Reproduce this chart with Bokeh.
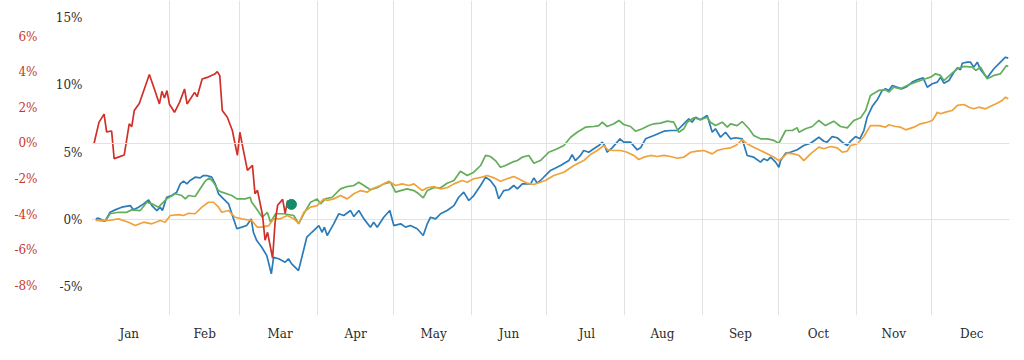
from bokeh.plotting import figure
from bokeh.models import Range1d, LinearAxis, FixedTicker, PrintfTickFormatter, Span
from bokeh.embed import file_html
from bokeh.resources import INLINE

# ---- data (day of year, percent) ----
months = ["Jan", "Feb", "Mar", "Apr", "May", "Jun", "Jul", "Aug", "Sep", "Oct", "Nov", "Dec"]
month_mid = [15, 45, 75, 105, 136, 166, 197, 227, 258, 289, 319, 350]
month_start = [31, 59, 90, 120, 151, 181, 212, 243, 273, 304, 334, 365]

blue_day = [1.7, 2.8, 5.4, 7.4, 9.4, 12.0, 15.4, 16.7, 18.7, 20.7, 22.7, 24.0, 26.0, 27.3, 28.2, 29.9, 31.9, 33.9, 35.3, 36.6,
            37.9, 39.2, 41.2, 43.2, 44.5, 45.8, 47.8, 49.2, 50.5, 52.5, 54.5, 55.8, 57.8, 59.8, 61.7, 63.5, 64.4, 65.7, 67.7, 69.7,
            71.5, 72.4, 74.4, 77.0, 78.3, 79.6, 82.3, 84.3, 85.6, 87.6, 90.4, 91.7, 92.6, 93.7, 96.3, 98.3, 100.3, 103.0, 104.3, 106.3,
            108.3, 110.9, 112.2, 113.6, 116.2, 118.6, 120.2, 122.9, 124.9, 126.8, 129.5, 131.9, 133.5, 134.8, 136.8, 138.8, 141.4, 144.1, 146.0, 148.0,
            150.0, 152.0, 154.7, 156.7, 158.6, 160.6, 161.9, 163.9, 165.9, 167.9, 169.3, 171.3, 174.6, 175.9, 177.2, 178.5, 182.5, 186.5, 189.8, 191.1,
            192.4, 194.4, 195.7, 197.7, 199.7, 201.7, 203.1, 204.0, 205.0, 207.0, 209.0, 210.1, 211.6, 214.3, 217.0, 218.3, 220.3, 223.6, 227.6, 230.2,
            232.9, 235.5, 237.5, 238.8, 240.2, 242.1, 244.8, 246.8, 248.1, 250.1, 252.1, 254.1, 256.1, 258.7, 260.7, 263.3, 266.0, 267.3, 268.7, 270.0,
            272.0, 273.3, 274.0, 276.0, 277.9, 280.6, 283.2, 285.9, 289.2, 291.2, 292.5, 294.5, 296.5, 298.5, 300.5, 301.8, 303.8, 305.5, 307.1, 308.4,
            310.4, 312.4, 314.4, 315.7, 317.0, 318.4, 320.4, 322.3, 324.3, 326.3, 328.3, 330.7, 332.3, 334.3, 336.3, 337.6, 338.9, 340.9, 342.9, 344.3,
            345.5, 346.2, 348.2, 349.5, 350.8, 352.2, 353.5, 356.1, 358.8, 361.4, 363.4, 364.5]
blue_val = [0.05, 0.10, -0.13, 0.54, 0.72, 0.92, 1.04, 0.72, 0.92, 1.17, 1.47, 1.04, 0.67, 0.92, 0.67, 1.66, 1.79, 2.04, 2.66, 2.86,
            2.66, 2.91, 3.16, 3.11, 3.28, 3.28, 3.16, 2.66, 1.92, 1.54, 1.17, 0.43, -0.69, -0.57, -0.45, 0.05, -0.97, -1.57, -2.07, -2.69,
            -4.05, -2.81, -2.93, -3.19, -2.93, -3.31, -3.81, -2.31, -1.32, -0.95, -0.45, -0.95, -0.57, -1.19, -0.32, 0.43, 0.30, 0.67, 0.22, 0.67,
            0.05, -0.57, -0.20, -0.57, 0.17, 0.67, -0.45, -0.32, -0.57, -0.45, -0.69, -1.19, -0.32, 0.17, 0.05, 0.43, 0.67, 1.04, 1.66, 2.04,
            1.42, 1.79, 2.54, 3.16, 2.91, 2.41, 1.54, 2.16, 2.22, 2.54, 2.29, 2.66, 2.66, 3.11, 2.71, 2.91, 3.66, 4.03, 4.40, 4.83,
            4.40, 4.78, 5.15, 5.02, 5.28, 5.52, 5.77, 5.52, 5.02, 5.35, 5.77, 6.02, 5.77, 5.77, 5.20, 5.35, 6.02, 6.27, 6.59, 6.64,
            6.64, 7.14, 7.51, 7.26, 7.63, 7.44, 7.76, 6.51, 6.77, 6.14, 6.51, 6.02, 6.10, 6.02, 4.78, 4.65, 4.28, 4.53, 4.40, 4.65,
            4.28, 3.90, 4.40, 4.95, 5.02, 5.20, 5.52, 5.69, 6.14, 5.84, 5.77, 6.19, 6.10, 5.77, 5.52, 5.84, 6.19, 6.02, 6.64, 7.63,
            8.43, 8.93, 9.63, 9.75, 9.63, 10.00, 9.87, 9.75, 9.93, 10.25, 10.43, 10.57, 9.87, 10.13, 10.25, 10.62, 10.17, 10.37, 10.99, 11.32,
            11.17, 11.66, 11.74, 11.74, 11.37, 11.74, 11.17, 10.57, 11.25, 11.74, 12.11, 12.04]

green_day = [1.7, 5.4, 7.4, 10.7, 14.0, 16.0, 19.4, 22.0, 24.0, 26.6, 29.9, 33.3, 35.9, 37.3, 38.6, 41.2, 43.2, 45.2, 46.8, 48.5,
             50.5, 51.8, 55.8, 57.8, 61.1, 63.1, 63.7, 65.2, 67.9, 69.9, 71.2, 73.2, 76.5, 80.4, 82.4, 84.4, 87.1, 89.7, 91.1, 93.0,
             95.7, 99.0, 101.7, 104.3, 106.3, 108.3, 110.9, 113.6, 116.2, 118.9, 120.9, 122.9, 125.5, 128.2, 130.1, 131.9, 133.5, 136.1, 138.8, 141.4,
             144.1, 146.7, 149.4, 152.0, 154.7, 156.7, 158.6, 160.6, 162.6, 164.6, 167.3, 169.3, 171.3, 173.9, 175.9, 178.5, 181.8, 185.2, 187.8, 190.5,
             193.1, 196.4, 199.7, 201.7, 203.1, 205.0, 207.7, 209.7, 211.6, 214.3, 216.3, 219.0, 221.6, 223.6, 226.2, 228.9, 231.5, 233.5, 235.5, 236.9,
             239.5, 242.1, 244.8, 246.1, 248.1, 250.8, 252.8, 254.1, 256.7, 258.7, 261.4, 263.3, 266.0, 268.7, 271.3, 273.3, 276.0, 278.6, 280.6, 281.3,
             283.9, 286.6, 289.2, 291.8, 295.1, 297.8, 300.5, 303.1, 305.8, 307.8, 309.7, 313.0, 315.7, 317.0, 319.0, 321.7, 324.3, 327.6, 331.6, 333.6,
             335.6, 337.6, 338.9, 342.2, 344.3, 346.9, 350.2, 351.6, 353.5, 356.1, 358.8, 361.4, 363.8, 364.5]
green_val = [-0.02, -0.13, 0.43, 0.54, 0.54, 0.72, 0.67, 1.29, 1.17, 0.92, 1.54, 1.92, 1.79, 1.54, 1.79, 1.72, 2.29, 2.86, 3.11, 2.78,
             2.16, 2.04, 1.79, 1.54, 1.54, 1.66, 1.29, 0.92, 0.17, 0.54, -0.20, 0.43, 0.43, 0.30, -0.32, 0.43, 1.29, 1.54, 1.17, 1.54,
             1.66, 2.29, 2.46, 2.54, 2.78, 2.54, 2.22, 2.37, 2.66, 2.78, 2.04, 2.16, 2.29, 2.16, 1.92, 1.62, 2.16, 2.37, 2.37, 2.71,
             2.91, 3.60, 3.28, 3.53, 4.03, 4.78, 4.70, 4.40, 3.90, 4.03, 4.28, 4.40, 4.65, 4.78, 4.20, 4.40, 5.02, 5.28, 5.52, 6.14,
             6.51, 6.89, 6.94, 7.01, 7.26, 6.94, 7.14, 7.39, 7.09, 6.94, 6.59, 6.77, 7.01, 7.14, 7.19, 7.34, 7.26, 6.51, 6.77, 7.26,
             7.59, 7.44, 7.63, 7.26, 7.01, 7.26, 6.89, 7.14, 7.01, 7.31, 6.77, 6.27, 6.02, 6.02, 5.90, 5.69, 6.64, 6.64, 6.84, 6.51,
             6.77, 6.94, 7.39, 7.01, 7.34, 6.94, 6.84, 7.39, 7.59, 8.13, 9.25, 9.63, 9.68, 9.50, 9.87, 9.75, 10.00, 10.25, 10.50, 10.62,
             10.87, 10.75, 10.37, 10.92, 11.25, 11.42, 11.37, 11.12, 11.37, 10.50, 10.75, 10.87, 11.49, 11.42]

orange_day = [1.7, 6.8, 10.7, 14.7, 17.4, 20.7, 24.0, 27.3, 29.3, 31.3, 34.6, 36.6, 38.6, 41.2, 43.9, 46.5, 48.5, 50.5, 51.8, 54.5,
              57.1, 59.8, 63.7, 65.9, 67.7, 70.5, 72.5, 75.1, 77.8, 80.4, 82.4, 84.4, 87.1, 89.7, 92.4, 93.7, 96.3, 99.0, 101.7, 104.3,
              107.0, 109.6, 111.6, 114.9, 118.2, 120.9, 123.5, 126.2, 128.2, 131.5, 133.5, 136.1, 138.8, 141.4, 144.1, 147.4, 149.4, 152.0, 155.3, 157.3,
              160.0, 162.6, 165.3, 167.9, 170.6, 173.2, 175.9, 178.5, 180.5, 183.8, 187.8, 191.8, 195.7, 198.4, 201.1, 203.7, 205.3, 207.7, 210.3, 213.0,
              215.6, 217.6, 219.6, 222.3, 224.9, 227.6, 230.2, 232.9, 235.5, 238.2, 240.8, 243.5, 246.8, 248.8, 251.4, 254.1, 256.1, 258.7, 260.7, 263.3,
              266.0, 268.7, 271.3, 273.3, 275.3, 276.6, 279.2, 281.3, 283.2, 285.9, 289.2, 291.2, 293.8, 296.5, 298.5, 300.5, 301.8, 304.5, 307.1, 309.7,
              313.0, 315.7, 317.0, 319.7, 321.7, 323.7, 327.0, 329.6, 332.3, 334.3, 335.6, 336.3, 337.6, 339.6, 342.2, 344.3, 346.9, 348.9, 350.8, 352.8,
              355.5, 358.1, 360.1, 362.1, 363.4, 364.5]
orange_val = [-0.07, -0.07, 0.05, -0.20, -0.45, -0.20, -0.32, -0.07, -0.20, 0.30, 0.37, 0.30, 0.47, 0.43, 0.92, 1.29, 1.29, 0.92, 0.54, 0.67,
              0.17, 0.05, -0.07, -0.57, -0.57, -0.45, 0.05, 0.05, 0.30, 0.05, -0.28, 0.54, 0.92, 1.04, 1.54, 1.42, 1.54, 1.79, 1.54, 1.92,
              2.16, 2.04, 2.29, 2.54, 2.86, 2.54, 2.66, 2.54, 2.66, 2.16, 2.37, 2.46, 2.29, 2.37, 2.66, 2.91, 2.78, 3.04, 3.16, 3.28,
              3.11, 2.86, 3.04, 3.21, 2.96, 2.71, 2.61, 2.78, 2.91, 3.28, 3.53, 4.03, 4.40, 4.85, 5.15, 5.52, 5.20, 5.15, 5.15, 5.02,
              4.78, 4.48, 4.65, 4.78, 4.70, 4.78, 4.70, 4.57, 4.65, 5.02, 5.10, 5.15, 4.90, 5.15, 5.28, 5.35, 5.52, 5.95, 5.65, 5.40,
              5.15, 4.90, 4.65, 4.40, 4.70, 4.95, 4.90, 4.78, 4.40, 4.90, 5.40, 5.28, 5.45, 5.35, 5.02, 5.10, 5.52, 5.65, 6.19, 7.01,
              7.01, 6.89, 7.07, 6.94, 6.89, 6.69, 6.89, 7.14, 7.26, 7.39, 7.76, 8.01, 7.89, 8.01, 8.13, 8.51, 8.58, 8.38, 8.26, 8.38,
              8.26, 8.51, 8.68, 8.88, 9.13, 9.01]

red_day = [1, 3, 5, 6, 8, 9, 11, 13, 15, 16, 17, 19, 23, 25, 27, 28, 29, 30, 31, 33,
           35, 37, 38, 41, 42, 44, 46, 49, 50, 51, 52, 54, 56, 58, 59, 60, 62, 64, 65, 66,
           68, 69, 70, 72, 73, 74, 76, 77, 78]
red_val = [0.0, 1.2, 1.65, 0.65, 0.7, -0.85, -0.75, -0.65, 1.1, 0.95, 1.85, 2.25, 3.87, 3.06, 2.22, 2.93, 2.56, 2.97, 2.2, 1.75,
           2.31, 3.06, 2.22, 2.87, 2.63, 3.62, 3.71, 3.9, 4.03, 3.81, 1.85, 1.47, 0.73, -0.67, 0.63, -0.11, -1.51, -1.23, -2.82, -2.63,
           -4.03, -5.43, -4.99, -6.44, -4.43, -3.47, -3.14, -3.92, -3.19]

marker_day = [79.5]
marker_val = [-3.42]

FONT = "DejaVu Serif"
FS = "12px"
TXT = "#2a2a2a"

p = figure(width=1024, height=360, output_backend="svg", toolbar_location=None,
           x_range=Range1d(0, 365), y_range=Range1d(-7.16, 16.34),
           min_border_left=91, min_border_right=15, min_border_top=0, min_border_bottom=45,
           outline_line_color=None, background_fill_color="white", border_fill_color="white")
p.extra_y_ranges = {"red": Range1d(-9.66, 8.03)}

# grids
p.xgrid.ticker = FixedTicker(ticks=month_start)
p.xgrid.grid_line_color = "#e2e2e2"
p.ygrid.ticker = FixedTicker(ticks=[0])
p.ygrid.grid_line_color = "#e2e2e2"
p.add_layout(Span(location=0, dimension="width", y_range_name="red", line_color="#e2e2e2", line_width=1))

# x axis
xa = p.xaxis[0]
xa.ticker = FixedTicker(ticks=month_mid)
xa.major_label_overrides = {m: lab for m, lab in zip(month_mid, months)}
xa.axis_line_color = None
xa.major_tick_line_color = None
xa.minor_tick_line_color = None
xa.major_label_standoff = 5
xa.major_label_text_font = FONT
xa.major_label_text_font_size = FS
xa.major_label_text_color = TXT

# black y axis (inner)
ya = p.yaxis[0]
ya.ticker = FixedTicker(ticks=[-5, 0, 5, 10, 15])
ya.formatter = PrintfTickFormatter(format="%d%%")
ya.axis_line_color = None
ya.major_tick_line_color = None
ya.minor_tick_line_color = None
ya.major_label_standoff = 3
ya.major_label_text_font = FONT
ya.major_label_text_font_size = FS
ya.major_label_text_color = TXT

# red y axis (outer)
ra = LinearAxis(y_range_name="red", ticker=FixedTicker(ticks=[-8, -6, -4, -2, 0, 2, 4, 6]),
                formatter=PrintfTickFormatter(format="%d%%"))
ra.axis_line_color = None
ra.major_tick_line_color = None
ra.minor_tick_line_color = None
ra.major_label_standoff = 9
ra.major_label_text_font = FONT
ra.major_label_text_font_size = FS
ra.major_label_text_color = "#c8372d"
p.add_layout(ra, "left")

# series
p.line(blue_day, blue_val, line_color="#2b7bb9", line_width=1.7)
p.line(green_day, green_val, line_color="#63ad5b", line_width=1.7)
p.line(orange_day, orange_val, line_color="#f0a23a", line_width=1.7)
p.line(red_day, red_val, line_color="#cf3027", line_width=1.7, y_range_name="red")
p.scatter(marker_day, marker_val, size=10, fill_color="#178a6e", line_color="#178a6e", y_range_name="red")

open("out.html", "w").write(file_html(p, INLINE))
